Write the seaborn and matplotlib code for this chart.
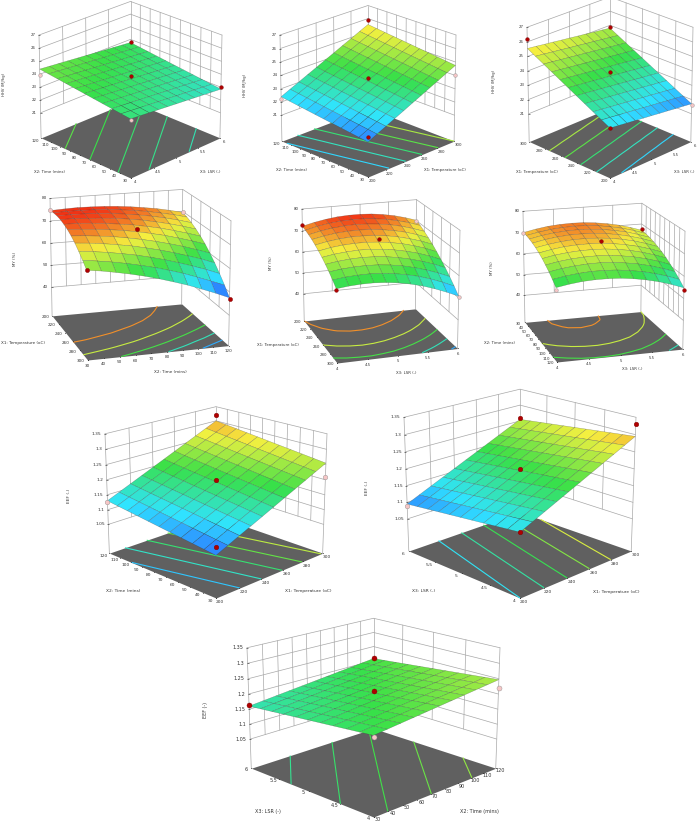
import matplotlib
matplotlib.use('Agg')
import numpy as np
import matplotlib.pyplot as plt
import seaborn as sns
from matplotlib.colors import Normalize
from mpl_toolkits.mplot3d import proj3d

W, H = 700, 823

time_grid = [30, 39, 48, 57, 66, 75, 84, 93, 102, 111, 120]
temp_grid = [200, 210, 220, 230, 240, 250, 260, 270, 280, 290, 300]
lsr_grid = [4, 4.2, 4.4, 4.6, 4.8, 5, 5.2, 5.4, 5.6, 5.8, 6]

time_ticks = [30, 40, 50, 60, 70, 80, 90, 100, 110, 120]
temp_ticks = [200, 220, 240, 260, 280, 300]
lsr_ticks = [4, 4.5, 5, 5.5, 6]

hhv_ticks = [21, 22, 23, 24, 25, 26, 27]
my_ticks = [40, 50, 60, 70, 80]
eef_ticks = [1.05, 1.1, 1.15, 1.2, 1.25, 1.3, 1.35]

hhv_levels_a = [23.08, 23.37, 23.62, 23.9, 24.15]
hhv_levels_b = [22.35, 22.95, 23.55, 24.15, 24.75]
my_levels = [52, 57, 62, 67, 72]
eef_levels_a = [1.12, 1.153, 1.186, 1.219, 1.252]
eef_levels_b = [1.135, 1.167, 1.199, 1.231, 1.263]
eef_levels_c = [1.174, 1.19, 1.205, 1.221, 1.237]

# rows follow the left axis, columns the right axis
hhv_time_lsr = [
    [23.5, 23.435, 23.37, 23.305, 23.24, 23.175, 23.11, 23.045, 22.98, 22.915, 22.85],
    [23.59, 23.525, 23.46, 23.395, 23.33, 23.265, 23.2, 23.135, 23.07, 23.005, 22.94],
    [23.68, 23.615, 23.55, 23.485, 23.42, 23.355, 23.29, 23.225, 23.16, 23.095, 23.03],
    [23.77, 23.705, 23.64, 23.575, 23.51, 23.445, 23.38, 23.315, 23.25, 23.185, 23.12],
    [23.86, 23.795, 23.73, 23.665, 23.6, 23.535, 23.47, 23.405, 23.34, 23.275, 23.21],
    [23.95, 23.885, 23.82, 23.755, 23.69, 23.625, 23.56, 23.495, 23.43, 23.365, 23.3],
    [24.04, 23.975, 23.91, 23.845, 23.78, 23.715, 23.65, 23.585, 23.52, 23.455, 23.39],
    [24.13, 24.065, 24.0, 23.935, 23.87, 23.805, 23.74, 23.675, 23.61, 23.545, 23.48],
    [24.22, 24.155, 24.09, 24.025, 23.96, 23.895, 23.83, 23.765, 23.7, 23.635, 23.57],
    [24.31, 24.245, 24.18, 24.115, 24.05, 23.985, 23.92, 23.855, 23.79, 23.725, 23.66],
    [24.4, 24.335, 24.27, 24.205, 24.14, 24.075, 24.01, 23.945, 23.88, 23.815, 23.75],
]
hhv_time_temp = [
    [21.6, 21.92, 22.23, 22.55, 22.86, 23.18, 23.49, 23.81, 24.12, 24.44, 24.75],
    [21.68, 22.0, 22.31, 22.63, 22.94, 23.26, 23.57, 23.89, 24.2, 24.52, 24.83],
    [21.76, 22.08, 22.39, 22.71, 23.02, 23.34, 23.65, 23.97, 24.28, 24.6, 24.91],
    [21.84, 22.16, 22.47, 22.79, 23.1, 23.42, 23.73, 24.05, 24.36, 24.68, 24.99],
    [21.92, 22.24, 22.55, 22.87, 23.18, 23.5, 23.81, 24.13, 24.44, 24.76, 25.07],
    [22.0, 22.32, 22.63, 22.95, 23.26, 23.58, 23.89, 24.21, 24.52, 24.84, 25.15],
    [22.08, 22.4, 22.71, 23.03, 23.34, 23.66, 23.97, 24.29, 24.6, 24.92, 25.23],
    [22.16, 22.48, 22.79, 23.11, 23.42, 23.74, 24.05, 24.37, 24.68, 25.0, 25.31],
    [22.24, 22.56, 22.87, 23.19, 23.5, 23.82, 24.13, 24.45, 24.76, 25.08, 25.39],
    [22.32, 22.64, 22.95, 23.27, 23.58, 23.9, 24.21, 24.53, 24.84, 25.16, 25.47],
    [22.4, 22.72, 23.03, 23.35, 23.66, 23.98, 24.29, 24.61, 24.92, 25.24, 25.55],
]
hhv_temp_lsr = [
    [22.45, 22.38, 22.3, 22.23, 22.15, 22.08, 22.0, 21.93, 21.85, 21.78, 21.7],
    [22.76, 22.69, 22.61, 22.54, 22.46, 22.39, 22.31, 22.24, 22.16, 22.09, 22.01],
    [23.07, 23.0, 22.92, 22.85, 22.77, 22.7, 22.62, 22.55, 22.47, 22.4, 22.32],
    [23.38, 23.31, 23.23, 23.16, 23.08, 23.01, 22.93, 22.86, 22.78, 22.71, 22.63],
    [23.69, 23.62, 23.54, 23.47, 23.39, 23.32, 23.24, 23.17, 23.09, 23.02, 22.94],
    [24.0, 23.93, 23.85, 23.78, 23.7, 23.63, 23.55, 23.48, 23.4, 23.33, 23.25],
    [24.31, 24.24, 24.16, 24.09, 24.01, 23.94, 23.86, 23.79, 23.71, 23.64, 23.56],
    [24.62, 24.55, 24.47, 24.4, 24.32, 24.25, 24.17, 24.1, 24.02, 23.95, 23.87],
    [24.93, 24.86, 24.78, 24.71, 24.63, 24.56, 24.48, 24.41, 24.33, 24.26, 24.18],
    [25.24, 25.17, 25.09, 25.02, 24.94, 24.87, 24.79, 24.72, 24.64, 24.57, 24.49],
    [25.55, 25.48, 25.4, 25.33, 25.25, 25.18, 25.1, 25.03, 24.95, 24.88, 24.8],
]
my_temp_time = [
    [74.6, 74.9, 75.1, 75.0, 74.8, 74.4, 73.8, 73.0, 72.1, 70.9, 69.6],
    [75.0, 75.2, 75.2, 75.1, 74.8, 74.2, 73.5, 72.6, 71.5, 70.3, 68.8],
    [75.1, 75.2, 75.1, 74.8, 74.4, 73.7, 72.9, 71.9, 70.7, 69.3, 67.7],
    [74.9, 74.9, 74.6, 74.2, 73.7, 72.9, 72.0, 70.8, 69.5, 68.0, 66.3],
    [74.3, 74.2, 73.9, 73.3, 72.6, 71.8, 70.7, 69.5, 68.0, 66.4, 64.6],
    [73.5, 73.2, 72.7, 72.1, 71.3, 70.3, 69.1, 67.8, 66.2, 64.5, 62.6],
    [72.3, 71.9, 71.3, 70.6, 69.6, 68.5, 67.2, 65.7, 64.1, 62.2, 60.2],
    [70.8, 70.3, 69.6, 68.7, 67.7, 66.4, 65.0, 63.4, 61.6, 59.7, 57.5],
    [68.9, 68.3, 67.5, 66.5, 65.4, 64.0, 62.5, 60.7, 58.8, 56.8, 54.5],
    [66.8, 66.0, 65.1, 64.0, 62.7, 61.3, 59.6, 57.8, 55.7, 53.5, 51.2],
    [64.3, 63.5, 62.4, 61.2, 59.8, 58.2, 56.4, 54.5, 52.3, 50.0, 47.5],
]
my_temp_lsr = [
    [72.0, 73.3, 74.3, 75.0, 75.3, 75.3, 75.0, 74.3, 73.3, 71.9, 70.2],
    [71.6, 72.9, 73.8, 74.4, 74.6, 74.6, 74.1, 73.4, 72.3, 70.9, 69.1],
    [71.0, 72.2, 73.1, 73.6, 73.8, 73.6, 73.1, 72.3, 71.1, 69.6, 67.8],
    [70.3, 71.4, 72.2, 72.6, 72.7, 72.5, 71.9, 71.0, 69.8, 68.2, 66.3],
    [69.3, 70.4, 71.1, 71.5, 71.5, 71.2, 70.6, 69.6, 68.3, 66.7, 64.7],
    [68.2, 69.2, 69.8, 70.1, 70.1, 69.7, 69.0, 68.0, 66.6, 64.9, 62.8],
    [66.9, 67.8, 68.3, 68.6, 68.5, 68.0, 67.2, 66.1, 64.7, 62.9, 60.8],
    [65.4, 66.2, 66.7, 66.9, 66.7, 66.2, 65.3, 64.1, 62.6, 60.8, 58.6],
    [63.7, 64.4, 64.8, 64.9, 64.7, 64.1, 63.2, 61.9, 60.3, 58.4, 56.2],
    [61.8, 62.5, 62.8, 62.9, 62.5, 61.9, 60.9, 59.6, 57.9, 55.9, 53.6],
    [59.7, 60.3, 60.6, 60.6, 60.2, 59.5, 58.4, 57.0, 55.2, 53.1, 50.8],
]
my_time_lsr = [
    [70.0, 71.2, 72.1, 72.6, 72.8, 72.7, 72.2, 71.4, 70.3, 68.8, 67.0],
    [70.0, 71.1, 72.0, 72.5, 72.7, 72.6, 72.1, 71.2, 70.1, 68.6, 66.8],
    [69.7, 70.9, 71.7, 72.2, 72.4, 72.2, 71.7, 70.8, 69.7, 68.1, 66.3],
    [69.2, 70.4, 71.2, 71.7, 71.8, 71.6, 71.1, 70.2, 69.0, 67.5, 65.6],
    [68.5, 69.6, 70.4, 70.9, 71.0, 70.8, 70.3, 69.4, 68.2, 66.6, 64.7],
    [67.6, 68.7, 69.5, 69.9, 70.0, 69.8, 69.2, 68.3, 67.1, 65.5, 63.6],
    [66.5, 67.6, 68.3, 68.7, 68.8, 68.6, 68.0, 67.1, 65.8, 64.2, 62.3],
    [65.1, 66.2, 66.9, 67.3, 67.4, 67.1, 66.5, 65.6, 64.3, 62.7, 60.7],
    [63.6, 64.6, 65.3, 65.7, 65.8, 65.5, 64.8, 63.9, 62.6, 60.9, 59.0],
    [61.8, 62.8, 63.5, 63.9, 63.9, 63.6, 62.9, 62.0, 60.6, 59.0, 57.0],
    [59.8, 60.8, 61.5, 61.8, 61.8, 61.5, 60.8, 59.8, 58.5, 56.8, 54.8],
]
eef_time_temp = [
    [1.085, 1.102, 1.119, 1.136, 1.153, 1.170, 1.187, 1.204, 1.221, 1.238, 1.255],
    [1.0895, 1.1065, 1.1235, 1.1405, 1.1575, 1.1745, 1.1915, 1.2085, 1.2255, 1.2425, 1.2595],
    [1.094, 1.111, 1.128, 1.145, 1.162, 1.179, 1.196, 1.213, 1.230, 1.247, 1.264],
    [1.0985, 1.1155, 1.1325, 1.1495, 1.1665, 1.1835, 1.2005, 1.2175, 1.2345, 1.2515, 1.2685],
    [1.103, 1.120, 1.137, 1.154, 1.171, 1.188, 1.205, 1.222, 1.239, 1.256, 1.273],
    [1.1075, 1.1245, 1.1415, 1.1585, 1.1755, 1.1925, 1.2095, 1.2265, 1.2435, 1.2605, 1.2775],
    [1.112, 1.129, 1.146, 1.163, 1.180, 1.197, 1.214, 1.231, 1.248, 1.265, 1.282],
    [1.1165, 1.1335, 1.1505, 1.1675, 1.1845, 1.2015, 1.2185, 1.2355, 1.2525, 1.2695, 1.2865],
    [1.121, 1.138, 1.155, 1.172, 1.189, 1.206, 1.223, 1.240, 1.257, 1.274, 1.291],
    [1.1255, 1.1425, 1.1595, 1.1765, 1.1935, 1.2105, 1.2275, 1.2445, 1.2615, 1.2785, 1.2955],
    [1.130, 1.147, 1.164, 1.181, 1.198, 1.215, 1.232, 1.249, 1.266, 1.283, 1.300],
]
eef_lsr_temp = [
    [1.135, 1.151, 1.167, 1.183, 1.199, 1.215, 1.231, 1.247, 1.263, 1.279, 1.295],
    [1.131, 1.147, 1.163, 1.179, 1.195, 1.211, 1.227, 1.243, 1.259, 1.275, 1.291],
    [1.127, 1.143, 1.159, 1.175, 1.191, 1.207, 1.223, 1.239, 1.255, 1.271, 1.287],
    [1.123, 1.139, 1.155, 1.171, 1.187, 1.203, 1.219, 1.235, 1.251, 1.267, 1.283],
    [1.119, 1.135, 1.151, 1.167, 1.183, 1.199, 1.215, 1.231, 1.247, 1.263, 1.279],
    [1.115, 1.131, 1.147, 1.163, 1.179, 1.195, 1.211, 1.227, 1.243, 1.259, 1.275],
    [1.111, 1.127, 1.143, 1.159, 1.175, 1.191, 1.207, 1.223, 1.239, 1.255, 1.271],
    [1.107, 1.123, 1.139, 1.155, 1.171, 1.187, 1.203, 1.219, 1.235, 1.251, 1.267],
    [1.103, 1.119, 1.135, 1.151, 1.167, 1.183, 1.199, 1.215, 1.231, 1.247, 1.263],
    [1.099, 1.115, 1.131, 1.147, 1.163, 1.179, 1.195, 1.211, 1.227, 1.243, 1.259],
    [1.095, 1.111, 1.127, 1.143, 1.159, 1.175, 1.191, 1.207, 1.223, 1.239, 1.255],
]
eef_lsr_time = [
    [1.2, 1.2047, 1.2094, 1.2141, 1.2188, 1.2235, 1.2282, 1.2329, 1.2376, 1.2423, 1.247],
    [1.196, 1.2007, 1.2054, 1.2101, 1.2148, 1.2195, 1.2242, 1.2289, 1.2336, 1.2383, 1.243],
    [1.192, 1.1967, 1.2014, 1.2061, 1.2108, 1.2155, 1.2202, 1.2249, 1.2296, 1.2343, 1.239],
    [1.188, 1.1927, 1.1974, 1.2021, 1.2068, 1.2115, 1.2162, 1.2209, 1.2256, 1.2303, 1.235],
    [1.184, 1.1887, 1.1934, 1.1981, 1.2028, 1.2075, 1.2122, 1.2169, 1.2216, 1.2263, 1.231],
    [1.18, 1.1847, 1.1894, 1.1941, 1.1988, 1.2035, 1.2082, 1.2129, 1.2176, 1.2223, 1.227],
    [1.176, 1.1807, 1.1854, 1.1901, 1.1948, 1.1995, 1.2042, 1.2089, 1.2136, 1.2183, 1.223],
    [1.172, 1.1767, 1.1814, 1.1861, 1.1908, 1.1955, 1.2002, 1.2049, 1.2096, 1.2143, 1.219],
    [1.168, 1.1727, 1.1774, 1.1821, 1.1868, 1.1915, 1.1962, 1.2009, 1.2056, 1.2103, 1.215],
    [1.164, 1.1687, 1.1734, 1.1781, 1.1828, 1.1875, 1.1922, 1.1969, 1.2016, 1.2063, 1.211],
    [1.16, 1.1647, 1.1694, 1.1741, 1.1788, 1.1835, 1.1882, 1.1929, 1.1976, 1.2023, 1.207],
]

# design points: right axis value, left axis value, response, above surface or not
pts_hhv_time_lsr = [(6, 120, 23.8, 1), (5, 75, 23.9, 1), (6, 30, 23.0, 1), (4, 120, 23.95, 0), (4, 30, 23.4, 0)]
pts_hhv_time_temp = [(300, 120, 25.9, 1), (250, 75, 23.8, 1), (200, 30, 22.0, 1), (200, 120, 22.25, 0), (300, 30, 24.0, 0)]
pts_hhv_temp_lsr = [(4, 300, 26.2, 1), (6, 300, 24.85, 1), (5, 250, 23.9, 1), (4, 200, 22.45, 1), (6, 200, 21.6, 0)]
pts_my_temp_time = [(30, 200, 75.0, 0), (120, 200, 69.6, 0), (75, 250, 71.5, 1), (30, 300, 64.5, 1), (120, 300, 47.0, 1)]
pts_my_temp_lsr = [(4, 200, 72.5, 1), (6, 200, 69.8, 0), (5, 250, 71.0, 1), (4, 300, 59.0, 1), (6, 300, 50.3, 0)]
pts_my_time_lsr = [(4, 30, 70.0, 0), (6, 30, 67.5, 1), (5, 75, 71.0, 1), (4, 120, 58.8, 0), (6, 120, 54.0, 1)]
pts_eef_time_temp = [(300, 120, 1.322, 1), (250, 75, 1.2, 1), (200, 30, 1.11, 1), (200, 120, 1.125, 0), (300, 30, 1.21, 0)]
pts_eef_lsr_temp = [(300, 6, 1.26, 1), (300, 4, 1.33, 1), (250, 5, 1.2, 1), (200, 4, 1.135, 1), (200, 6, 1.09, 0)]
pts_eef_lsr_time = [(30, 6, 1.165, 1), (120, 6, 1.21, 1), (75, 5, 1.21, 1), (30, 4, 1.195, 0), (120, 4, 1.22, 0)]

sns.set_theme(style='white')
plt.rcParams['font.family'] = ['DejaVu Sans']

rainbow = sns.blend_palette(['#2a30ff', '#30e4ff', '#38e048', '#f4f040', '#f01c10'], as_cmap=True)
hhv_norm = Normalize(21.0, 26.8)
my_norm = Normalize(47, 76)
eef_norm = Normalize(1.06, 1.345)

fig = plt.figure(figsize=(W / 100, H / 100), dpi=100)


def to_screen(ax, x, y, z):
    a, b, _ = proj3d.proj_transform(x, y, z, ax.get_proj())
    return a, b


def place(ax, left, right, bottom):
    # size the square 3d axes so that the box spans the wanted pixels
    lx = ax.get_xlim3d()
    ly = ax.get_ylim3d()
    lz = ax.get_zlim3d()
    nx, ny = [], []
    for x in lx:
        for y in ly:
            for z in lz:
                fx, fy = ax.transLimits.transform(to_screen(ax, x, y, z))
                nx.append(fx)
                ny.append(fy)
    s = (right - left) / (max(nx) - min(nx))
    x0 = left - s * min(nx)
    y0 = (H - bottom) - s * min(ny)
    ax.set_position([x0 / W, y0 / H, s / W, s / H])


def panel(z, xg, yg, xt, yt, zt, levels, norm, pts, box, view, h, y_flip=False, fs=3.0, ms=8,
          xoff=(3, -3), yoff=(-4, -2), focal=0.8):
    ax = fig.add_axes([0.1, 0.1, 0.5, 0.5 * W / H], projection='3d', computed_zorder=False)
    ax.set_axis_off()
    ax.patch.set_alpha(0)
    ax.view_init(elev=view[0], azim=view[1])
    ax.set_box_aspect((1, 1, h), zoom=0.9)
    ax.set_proj_type('persp', focal_length=focal)

    zz = np.array(z)
    X, Y = np.meshgrid(xg, yg)
    x0, x1 = xt[0], xt[-1]
    y0, y1 = (yt[-1], yt[0]) if y_flip else (yt[0], yt[-1])
    zlo, zhi = zt[0], zt[-1]
    zf = zlo - 0.33 * (zhi - zlo)
    ax.set_xlim(x0, x1)
    ax.set_ylim(y0, y1)
    ax.set_zlim(zf, zhi)
    place(ax, box[0], box[1], box[2])

    grid = dict(color='#a8a8a8', lw=0.5, zorder=1)
    for v in zt:
        ax.plot([x0, x1], [y1, y1], [v, v], **grid)
        ax.plot([x1, x1], [y0, y1], [v, v], **grid)
    for v in xt[1:-1]:
        ax.plot([v, v], [y1, y1], [zlo, zhi], **grid)
    for v in yt[1:-1]:
        ax.plot([x1, x1], [v, v], [zlo, zhi], **grid)
    ax.plot([x0, x0], [y1, y1], [zf, zhi], **grid)
    ax.plot([x1, x1], [y0, y0], [zf, zhi], **grid)
    ax.plot([x1, x1], [y1, y1], [zf, zhi], **grid)

    ax.plot_surface(np.array([[x0, x1], [x0, x1]]), np.array([[y0, y0], [y1, y1]]),
                    np.full((2, 2), zf), color='#606060', shade=False, linewidth=0, zorder=2)
    ax.contour(X, Y, zz, levels=levels, zdir='z', offset=zf, cmap=rainbow, norm=norm,
               linewidths=0.8, zorder=3)
    # each cell gets the colour of its mean height
    cells = (zz[:-1, :-1] + zz[1:, :-1] + zz[:-1, 1:] + zz[1:, 1:]) / 4
    ax.plot_surface(X, Y, zz, facecolors=rainbow(norm(cells)), rstride=1, cstride=1, shade=False,
                    edgecolor=(0.2, 0.2, 0.2, 0.45), linewidth=0.3, zorder=4)

    # small tick marks on the axis edges
    ax.plot([x0] * len(zt), [y1] * len(zt), zt, ls='', marker='_', ms=2, mew=0.4, color='#222222', zorder=5)
    ax.plot(xt, [y0] * len(xt), [zf] * len(xt), ls='', marker='.', ms=1, mew=0, color='#222222', zorder=5)
    ax.plot([x0] * len(yt), yt, [zf] * len(yt), ls='', marker='.', ms=1, mew=0, color='#222222', zorder=5)

    for px_, py_, pz_, up in pts:
        ax.scatter([px_], [py_], [pz_], s=ms, depthshade=False, zorder=6, linewidths=0.3,
                   color='#b00000' if up else '#f6c6c6', edgecolors='#7a0000' if up else '#909090')

    for v in zt:
        a, b = to_screen(ax, x0, y1, v)
        ax.annotate(f'{v:g}', (a, b), xytext=(-2.5, 0), textcoords='offset points', fontsize=fs,
                    ha='right', va='center', color='#333333', annotation_clip=False)
    for v in xt:
        a, b = to_screen(ax, v, y0, zf)
        ax.annotate(f'{v:g}', (a, b), xytext=xoff, textcoords='offset points', fontsize=fs,
                    ha='center', va='center', color='#333333', annotation_clip=False)
    for v in yt:
        a, b = to_screen(ax, x0, v, zf)
        ax.annotate(f'{v:g}', (a, b), xytext=yoff, textcoords='offset points', fontsize=fs,
                    ha='center', va='center', color='#333333', annotation_clip=False)
    return ax


def label(x, y, text, fs=3.0, rot=0):
    fig.text(x / W, 1 - y / H, text, fontsize=fs, rotation=rot, ha='center', va='center', color='#333333')


t_lab, temp_lab, lsr_lab = 'X2: Time (mins)', 'X1: Temperature (oC)', 'X3: LSR (-)'

# top row
panel(hhv_time_lsr, lsr_grid, time_grid, lsr_ticks, time_ticks, hhv_ticks, hhv_levels_a, hhv_norm,
      pts_hhv_time_lsr, (39, 222, 178), (24, -135), 0.88, fs=2.8, ms=7, focal=1.6)
label(4, 84, 'HHV (MJ/kg)', 2.8, 90)
label(50, 172, t_lab, 2.8)
label(210, 172, lsr_lab, 2.8)

panel(hhv_time_temp, temp_grid, time_grid, temp_ticks, time_ticks, hhv_ticks, hhv_levels_b, hhv_norm,
      pts_hhv_time_temp, (280, 456, 177), (22, -135), 0.93, fs=2.8, ms=7, focal=1.6)
label(245, 85, 'HHV (MJ/kg)', 2.8, 90)
label(291, 170, t_lab, 2.8)
label(445, 170, temp_lab, 2.8)

panel(hhv_temp_lsr, lsr_grid, temp_grid, lsr_ticks, temp_ticks, hhv_ticks, hhv_levels_b, hhv_norm,
      pts_hhv_temp_lsr, (527, 693, 178), (24, -135), 1.08, fs=2.8, ms=7, focal=1.6)
label(494, 81, 'HHV (MJ/kg)', 2.8, 90)
label(537, 172, temp_lab, 2.8)
label(684, 172, lsr_lab, 2.8)

# second row, front corner turned to the left
panel(my_temp_time, time_grid, temp_grid, time_ticks, temp_ticks, my_ticks, my_levels, my_norm,
      pts_my_temp_time, (50, 231, 360), (16, -107), 0.88, y_flip=True, fs=3.0, ms=9,
      xoff=(0, -4), yoff=(-5, -1), focal=1.0)
label(15, 259, 'MY (%)', 2.9, 90)
label(23, 343, temp_lab, 3.0)
label(170, 372, t_lab, 3.0)

panel(my_temp_lsr, lsr_grid, temp_grid, lsr_ticks, temp_ticks, my_ticks, my_levels, my_norm,
      pts_my_temp_lsr, (302, 460, 363), (18, -108), 0.98, y_flip=True, fs=2.8, ms=7,
      xoff=(0, -4), yoff=(-5, -1), focal=1.0)
label(271, 263, 'MY (%)', 2.8, 90)
label(278, 345, temp_lab, 2.8)
label(406, 373, lsr_lab, 2.8)

panel(my_time_lsr, lsr_grid, time_grid, lsr_ticks, time_ticks, my_ticks, my_levels, my_norm,
      pts_my_time_lsr, (523, 685, 362), (16, -107), 0.93, y_flip=True, fs=2.8, ms=7,
      xoff=(0, -4), yoff=(-5, -1), focal=1.0)
label(492, 268, 'MY (%)', 2.8, 90)
label(500, 343, t_lab, 2.8)
label(632, 369, lsr_lab, 2.8)

# third row
panel(eef_time_temp, temp_grid, time_grid, temp_ticks, time_ticks, eef_ticks, eef_levels_a, eef_norm,
      pts_eef_time_temp, (105, 327, 598), (19, -135), 0.82, fs=3.2, ms=11, focal=0.7)
label(69, 496, 'EEF (-)', 3.2, 90)
label(123, 591, t_lab, 3.2)
label(308, 591, temp_lab, 3.2)

panel(eef_lsr_temp, temp_grid, lsr_grid, temp_ticks, lsr_ticks, eef_ticks, eef_levels_b, eef_norm,
      pts_eef_lsr_temp, (404, 636, 598), (19, -135), 0.88, fs=3.2, ms=11, focal=0.7)
label(367, 488, 'EEF (-)', 3.2, 90)
label(424, 591, lsr_lab, 3.2)
label(616, 592, temp_lab, 3.2)

# bottom panel
panel(eef_lsr_time, time_grid, lsr_grid, time_ticks, lsr_ticks, eef_ticks, eef_levels_c, eef_norm,
      pts_eef_lsr_time, (247, 500, 817), (18, -135), 0.72, fs=3.5, ms=13, xoff=(3, -2), yoff=(-4, -1), focal=0.7)
label(205, 710, 'EEF (-)', 3.5, 90)
label(268, 811, lsr_lab, 3.5)
label(479, 811, t_lab, 3.5)

fig.savefig('out.png', dpi=100)
